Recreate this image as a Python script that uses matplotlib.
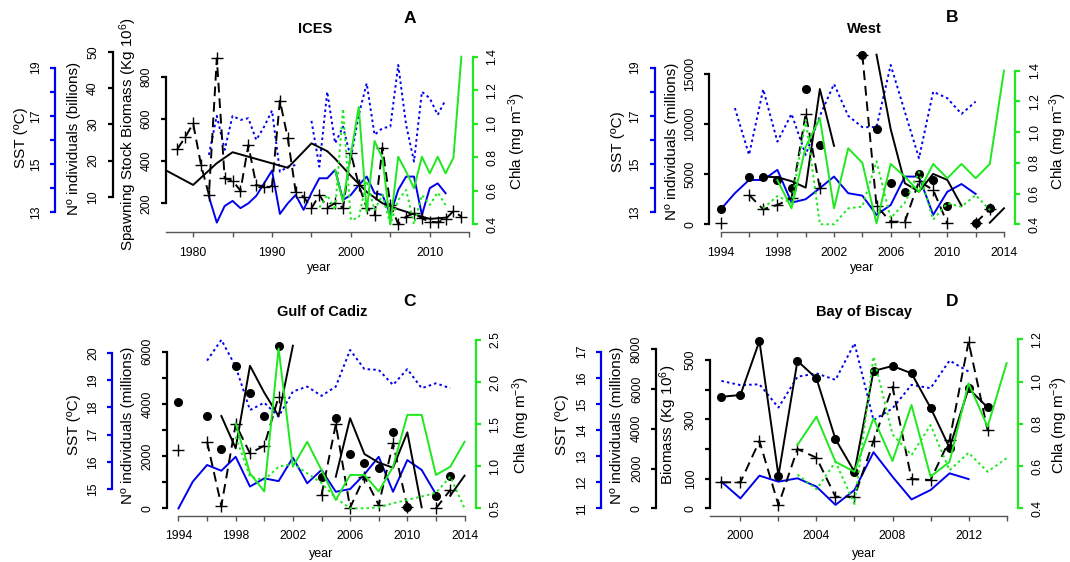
import matplotlib
matplotlib.use("Agg")
import matplotlib.pyplot as plt
import numpy as np

nan = np.nan

# ---------------- A: ICES ----------------
ices_ssb_years = [1976, 1980, 1983, 1985, 1992, 1995, 1997, 1998, 2000, 2002, 2004, 2006, 2008, 2010, 2012]
ices_ssb = [367, 287, 390, 442, 368, 484, 447, 411, 330, 254, 200, 172, 148, 126, 132]
ices_rec_years = list(range(1978, 2015))
ices_rec = [23.2, 26.5, 30.3, 18.8, 10.5, 48.3, 15.1, 14.4, 11.7, 24.3, 13.2, 12.8, 13.0,
            36.6, 26.2, 11.4, 10.0, 6.8, 10.5, 6.95, 8.2, 6.95, 22.0, 13.2, 7.0, 4.9,
            23.6, 7.7, 2.4, 4.5, 5.4, 4.0, 3.1, 2.9, 3.8, 6.0, 4.5]
ices_sst_years = list(range(1982, 2013))
ices_sst_low = [13.65, 12.57, 13.26, 13.47, 13.17, 13.37, 13.68, 14.2, 14.73, 12.93, 13.37,
                13.72, 13.1, 13.8, 14.41, 14.41, 14.76, 13.51, 13.72, 14.13, 14.48, 13.79,
                13.72, 12.89, 13.93, 14.48, 14.48, 12.89, 14.0, 14.2, 13.79]
ices_sst_high = [15.38, 17.0, 15.59, 17.0, 16.83, 16.9, 16.0, 16.55, 17.22, 14.68, 14.89,
                 14.96, nan, 16.79, 14.89, 18.0, 15.86, 16.55, 15.24, 17.04, 18.35, 16.21,
                 16.49, 16.55, 19.11, 16.62, 15.1, 18.0, 17.73, 17.04, 17.66]
ices_chla_years = list(range(1998, 2015))
ices_chla = [0.724, 0.535, 0.82, 1.10, 0.475, 0.897, 0.794, 0.40, 0.803, 0.714, 0.615,
             0.803, 0.704, 0.803, 0.704, 0.797, 1.40]
ices_chla2_years = list(range(1996, 2013))
ices_chla2 = [0.50, 0.575, 0.485, 1.09, 0.425, 0.44, 0.66, 0.485, 0.575, 0.40, 0.545,
              0.605, 0.40, 0.575, 0.515, 0.59, 0.515]

# ---------------- B: West ----------------
west_years = list(range(1994, 2015))
west_dots = [1500, nan, 4760, 4760, 4430, 3660, 13500, 7930, nan, nan, 16930, 9500,
             4100, 3260, 5030, 4430, 1860, nan, 160, 1660, nan]
west_plus = [100, nan, 2930, 1500, 1930, 2600, 11030, 3600, nan, nan, 16900, 1830,
             260, 260, 4300, 3430, 100, nan, 160, 1500, nan]
west_solid = [nan, nan, nan, 4760, 4700, 4300, 3660, 13500, 7830, nan, nan, 16930,
              9500, 4100, 3260, 5030, 4430, 1860, nan, 160, 1600]
west_sst_years = list(range(1994, 2013))
west_sst_low = [13.12, 13.79, 14.34, 14.34, 14.76, 13.4, 13.54, 14.0, 14.48, 13.79, 13.69,
                12.89, 13.3, 14.48, 14.48, 12.89, 13.85, 14.17, 13.76]
west_sst_high = [nan, 17.32, 15.38, 18.1, 15.93, 17.08, 15.38, 17.0, 18.32, 17.0, 16.53,
                 16.53, 19.11, 17.17, 15.24, 18.0, 17.73, 17.08, 17.59]
west_chla_years = list(range(1998, 2015))
west_chla = [0.688, 0.504, 0.905, 1.09, 0.504, 0.895, 0.80, 0.406, 0.793, 0.71, 0.612,
             0.793, 0.70, 0.793, 0.70, 0.793, 1.40]
west_chla2_years = list(range(1997, 2014))
west_chla2 = [0.504, 0.584, 0.537, 1.08, 0.40, 0.40, 0.504, 0.515, 0.81, 0.44, 0.54,
              0.74, 0.43, 0.537, 0.515, 0.59, 0.493]

# ---------------- C: Gulf of Cadiz ----------------
cadiz_years = list(range(1994, 2015))
cadiz_dots = [4083, nan, 3535, 2260, 5460, 4430, 3535, 6230, nan, nan, 1210, 3450,
              2080, 1750, 1555, 2910, 38, nan, 483, 1250, nan]
cadiz_plus = [2233, nan, 2550, 100, 3217, 2107, 2400, 4274, nan, nan, 510, 3217,
              23, 1210, 126, 2490, 60, nan, 0, 700, nan]
cadiz_solid = [nan, nan, nan, 3535, 2300, 5460, 4430, 3535, 6230, nan, nan, 1210,
               3450, 2080, 1750, 1555, 2910, 38, nan, 483, 1250]
cadiz_sst_years = list(range(1994, 2014))
cadiz_sst_low = [14.3, 15.28, 15.89, 15.68, 16.19, 15.1, 15.4, 15.3, 16.16, 15.22, 15.71,
                 14.91, 15.01, 15.55, 16.19, 14.91, 16.07, 15.71, 14.82, nan]
cadiz_sst_high = [nan, nan, 19.71, 20.47, 19.49, 17.9, 18.17, 17.66, 18.58, 18.76, 18.42,
                  18.76, 20.1, 19.4, 19.37, 18.82, 19.4, 18.7, 18.88, 18.7]
cadiz_chla_years = list(range(1998, 2015))
cadiz_chla = [1.51, 0.916, 0.70, 2.40, 0.994, 1.29, 0.955, 0.60, 0.896, 0.896, 0.70,
              0.994, 1.61, 1.61, 0.896, 0.994, 1.29]
cadiz_chla2 = [1.35, 0.876, 0.836, 0.994, 1.03, 0.916, 0.80, 0.62, 0.50, 0.50, 0.51,
               0.56, 0.60, 0.64, 0.685, 0.876, 0.50]

# ---------------- D: Bay of Biscay ----------------
biscay_years = list(range(1999, 2014))
biscay_bio = [376, 382, 564, 110, 497, 438, 233, 123, 463, 480, 455, 339, 204, 404, 340]
biscay_rec = [1308, 1308, 3385, 166, 2983, 2545, 584, 584, 3385, 6117, 1474, 1424,
              3435, 8380, 3938]
biscay_sst_years = list(range(1999, 2013))
biscay_sst_low = [12.02, 11.38, 12.25, 12.02, 12.15, 11.83, 11.13, 11.7, 13.15, 12.21,
                  11.34, 11.7, 12.34, 12.12]
biscay_sst_high = [15.88, 15.72, 15.75, 14.86, 16.04, 16.17, 15.92, 17.32, 14.38, 14.83,
                   15.73, 15.6, 16.66, 16.24]
biscay_chla_years = list(range(2003, 2015))
biscay_chla = [0.70, 0.834, 0.62, 0.573, 0.826, 0.624, 0.889, 0.55, 0.62, 0.992, 0.786, 1.087]
biscay_chla2 = [0.56, 0.49, 0.62, 0.42, 1.118, 0.75, 0.652, 0.794, 0.58, 0.663, 0.573, 0.637]

plt.rcParams['font.family'] = ['Liberation Sans', 'DejaVu Sans']
plt.rcParams['mathtext.fontset'] = 'custom'
plt.rcParams['mathtext.rm'] = 'Liberation Sans'
plt.rcParams['mathtext.it'] = 'Liberation Sans:italic'
plt.rcParams['mathtext.bf'] = 'Liberation Sans:bold'

W, H = 1070, 562
BLUE = '#0000ee'
GREEN = '#1ee81e'
DASH = (0, (5, 3))
DOT = (0, (1.3, 1.6))
LW = 1.4
TICK_FS = 8.8
LABEL_FS = 11

fig = plt.figure(figsize=(W / 100, H / 100), dpi=100)


def px_text(x, y, s, **kw):
    fig.text(x / W, 1 - y / H, s, ha='center', va='center', **kw)


def make_base(x0, x1, ytop, ybot, xlim, ticks, labels, axis_from, axis_to):
    ax = fig.add_axes([x0 / W, 1 - ybot / H, (x1 - x0) / W, (ybot - ytop) / H])
    ax.set_xlim(xlim)
    ax.patch.set_visible(False)
    for side in ('top', 'right', 'left'):
        ax.spines[side].set_visible(False)
    ax.set_yticks([])
    ax.spines['bottom'].set_bounds(axis_from, axis_to)
    ax.spines['bottom'].set_color('#555555')
    ax.spines['bottom'].set_linewidth(1.0)
    ax.set_xticks(ticks)
    ax.set_xticklabels(labels)
    ax.tick_params(axis='x', color='#555555', length=3.6, width=1.0, pad=6.5, labelsize=TICK_FS)
    return ax


def add_y(base, ylim, ticks, labels, frac, color, right=False):
    ax = base.twinx()
    ax.set_ylim(ylim)
    for s in ax.spines.values():
        s.set_visible(False)
    if not right:
        ax.yaxis.tick_left()
    sp = ax.spines['right' if right else 'left']
    sp.set_visible(True)
    sp.set_position(('axes', frac))
    sp.set_bounds(ticks[0], ticks[-1])
    sp.set_color(color)
    sp.set_linewidth(1.6)
    ax.set_yticks(ticks)
    ax.set_yticklabels(labels, rotation=90, va='center')
    ax.tick_params(axis='y', color=color, width=1.6, length=3.6, pad=6, labelsize=TICK_FS)
    return ax


def ylabel(x, y, s):
    px_text(x, y, s, rotation=90, fontsize=LABEL_FS)


def nums(vals, fmt='{:g}', keep=None):
    return [fmt.format(v) if (keep is None or i % keep == 0) else '' for i, v in enumerate(vals)]


# ---------- Panel A ----------
t5 = list(range(1980, 2016, 5))
base = make_base(166, 472.7, 50.5, 232.5, (1976.56, 2015.44), t5, nums(t5, keep=2), 1976.56, 2015)
sst_t = list(range(13, 20))
ax_sst = add_y(base, (12.16, 19.71), sst_t, nums(sst_t, keep=2), -0.3606, BLUE)
rec_t = [10, 20, 30, 40, 50]
ax_rec = add_y(base, (0.08, 50.5), rec_t, nums(rec_t), -0.1744, 'black')
bio_t = [200, 400, 600, 800]
ax_bio = add_y(base, (61.6, 924), bio_t, nums(bio_t), 0.0, 'black')
chl_t = [0.4, 0.6, 0.8, 1.0, 1.2, 1.4]
ax_chl = add_y(base, (0.351, 1.437), chl_t, nums(chl_t, '{:.1f}'), 1.0, GREEN, right=True)

ax_sst.plot(ices_sst_years, ices_sst_low, color=BLUE, lw=LW)
ax_sst.plot(ices_sst_years, ices_sst_high, color=BLUE, lw=LW, ls=DOT)
ax_chl.plot(ices_chla_years, ices_chla, color=GREEN, lw=LW)
ax_chl.plot(ices_chla2_years, ices_chla2, color=GREEN, lw=LW, ls=DOT)
ax_bio.plot(ices_ssb_years, ices_ssb, color='black', lw=LW)
ax_rec.plot(ices_rec_years, ices_rec, color='black', lw=LW, ls=DASH, marker='+', ms=8, mew=1)

px_text(315, 29, 'ICES', fontsize=10.5, weight='bold')
px_text(409.5, 18.5, 'A', fontsize=12.5, weight='bold')
px_text(319.4, 268, 'year', fontsize=9)
ylabel(20.8, 138, 'SST (ºC)')
ylabel(74.4, 138, 'Nº individuals (billions)')
ylabel(128, 134, 'Spawning Stock Biomass (Kg 10$^{6}$)')
ylabel(517, 141.5, 'Chla (mg m$^{-3}$)')

# ---------- Panel B ----------
t2 = list(range(1994, 2015, 2))
base = make_base(709.4, 1015.3, 50.5, 232.5, (1993.2, 2014.8), t2, nums(t2, keep=2), 1994, 2014)
ax_sst = add_y(base, (12.16, 19.71), sst_t, nums(sst_t, keep=2), -0.1791, BLUE)
rec_t = [0, 5000, 10000, 15000]
ax_rec = add_y(base, (-818, 17345), rec_t, nums(rec_t), 0.0, 'black')
ax_chl = add_y(base, (0.3466, 1.5315), chl_t, nums(chl_t, '{:.1f}'), 1.0, GREEN, right=True)

ax_sst.plot(west_sst_years, west_sst_low, color=BLUE, lw=LW)
ax_sst.plot(west_sst_years, west_sst_high, color=BLUE, lw=LW, ls=DOT)
ax_chl.plot(west_chla_years, west_chla, color=GREEN, lw=LW)
ax_chl.plot(west_chla2_years, west_chla2, color=GREEN, lw=LW, ls=DOT)
ax_rec.plot(west_years, west_solid, color='black', lw=LW)
ax_rec.plot(west_years, west_plus, color='black', lw=LW, ls=DASH, marker='+', ms=8, mew=1)
ax_rec.plot(west_years, west_dots, 'o', color='black', ms=5.5)

px_text(864, 29, 'West', fontsize=10.5, weight='bold')
px_text(952.3, 17, 'B', fontsize=12.5, weight='bold')
px_text(862.4, 268, 'year', fontsize=9)
ylabel(618.3, 141.5, 'SST (ºC)')
ylabel(672, 141.5, 'Nº individuals (millions)')
ylabel(1058, 141.5, 'Chla (mg m$^{-3}$)')

# ---------- Panel C ----------
base = make_base(167, 476, 334, 516, (1993.2, 2014.8), t2, nums(t2, keep=2), 1994, 2014)
sst_t = list(range(15, 21))
ax_sst = add_y(base, (14.023, 20.684), sst_t, nums(sst_t), -0.1764, BLUE)
rec_t = list(range(0, 7000, 1000))
ax_rec = add_y(base, (-295, 6678), rec_t, nums(rec_t, keep=2), 0.0, 'black')
chl_t = [0.5, 1.0, 1.5, 2.0, 2.5]
ax_chl = add_y(base, (0.4085, 2.571), chl_t, nums(chl_t, '{:.1f}'), 1.0, GREEN, right=True)

ax_sst.plot(cadiz_sst_years, cadiz_sst_low, color=BLUE, lw=LW)
ax_sst.plot(cadiz_sst_years, cadiz_sst_high, color=BLUE, lw=LW, ls=DOT)
ax_chl.plot(cadiz_chla_years, cadiz_chla, color=GREEN, lw=LW)
ax_chl.plot(cadiz_chla_years, cadiz_chla2, color=GREEN, lw=LW, ls=DOT)
ax_rec.plot(cadiz_years, cadiz_solid, color='black', lw=LW)
ax_rec.plot(cadiz_years, cadiz_plus, color='black', lw=LW, ls=DASH, marker='+', ms=8, mew=1)
ax_rec.plot(cadiz_years, cadiz_dots, 'o', color='black', ms=5.5)

px_text(322, 312.3, 'Gulf of Cadiz', fontsize=10.5, weight='bold')
px_text(409.5, 301.7, 'C', fontsize=12.5, weight='bold')
px_text(321.5, 553.5, 'year', fontsize=9)
ylabel(74.4, 425, 'SST (ºC)')
ylabel(128, 425, 'Nº individuals (millions)')
ylabel(521, 425, 'Chla (mg m$^{-3}$)')

# ---------- Panel D ----------
t2 = list(range(2000, 2015, 2))
base = make_base(710, 1018, 334, 516, (1998.4, 2014.6), t2, nums(t2, keep=2), 1998.4, 2014)
sst_t = list(range(11, 18))
ax_sst = add_y(base, (10.705, 17.678), sst_t, nums(sst_t), -0.3539, BLUE)
rec_t = list(range(0, 10000, 2000))
ax_rec = add_y(base, (-387, 8770), rec_t, nums(rec_t), -0.1744, 'black')
bio_t = list(range(0, 600, 100))
ax_bio = add_y(base, (-26, 587.7), bio_t, ['0', '100', '', '300', '', '500'], 0.0, 'black')
chl_t = [0.4, 0.6, 0.8, 1.0, 1.2]
ax_chl = add_y(base, (0.3636, 1.2251), chl_t, nums(chl_t, '{:.1f}'), 1.0, GREEN, right=True)

ax_sst.plot(biscay_sst_years, biscay_sst_low, color=BLUE, lw=LW)
ax_sst.plot(biscay_sst_years, biscay_sst_high, color=BLUE, lw=LW, ls=DOT)
ax_chl.plot(biscay_chla_years, biscay_chla, color=GREEN, lw=LW)
ax_chl.plot(biscay_chla_years, biscay_chla2, color=GREEN, lw=LW, ls=DOT)
ax_rec.plot(biscay_years, biscay_rec, color='black', lw=LW, ls=DASH, marker='+', ms=8, mew=1)
ax_bio.plot(biscay_years, biscay_bio, color='black', lw=LW, marker='o', ms=5.5)

px_text(864, 312.3, 'Bay of Biscay', fontsize=10.5, weight='bold')
px_text(952.3, 301.7, 'D', fontsize=12.5, weight='bold')
px_text(864, 553.5, 'year', fontsize=9)
ylabel(561.8, 425, 'SST (ºC)')
ylabel(616.5, 425, 'Nº individuals (millions)')
ylabel(668.5, 425, 'Biomass (Kg 10$^{6}$)')
ylabel(1059, 425, 'Chla (mg m$^{-3}$)')

fig.savefig('out.png', dpi=100)
